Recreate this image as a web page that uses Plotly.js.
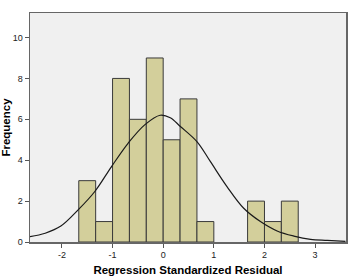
<!DOCTYPE html>
<html>
<head>
<meta charset="utf-8">
<script src="https://cdn.plot.ly/plotly-3.0.1.min.js"></script>
<style>html,body{margin:0;padding:0;background:#fff;}#chart{width:349px;height:276px;}</style>
</head>
<body>
<div id="chart"></div>
<script>
// Histogram bins (centers, width 1/3) and frequencies
var binCenters = [-1.5, -1.1667, -0.8333, -0.5, -0.1667, 0.1667, 0.5, 0.8333, 1.8333, 2.1667, 2.5];
var frequencies = [3, 1, 8, 6, 9, 5, 7, 1, 2, 1, 2];
var binWidth = 1/3;

// Normal curve points
var curveX = [-2.63, -2.33, -2.02, -1.68, -1.35, -1.02, -0.69, -0.36, -0.06, 0.14, 0.34, 0.67, 0.93, 1.26, 1.59, 1.92, 2.25, 2.58, 2.91, 3.24, 3.6];
var curveY = [0.26, 0.43, 0.78, 1.57, 2.47, 3.69, 4.84, 5.74, 6.2, 6.08, 5.65, 4.9, 3.94, 2.71, 1.65, 1.0, 0.54, 0.29, 0.13, 0.08, 0.03];

var xTicks = [-2, -1, 0, 1, 2, 3];
var yTicks = [0, 2, 4, 6, 8, 10];

var traces = [
  {
    type: 'bar',
    x: binCenters,
    y: frequencies,
    width: binWidth,
    marker: {color: '#d3cf9b', line: {color: '#3a3a3a', width: 1}},
    hoverinfo: 'none'
  },
  {
    type: 'scatter',
    mode: 'lines',
    x: curveX,
    y: curveY,
    line: {color: '#1a1a1a', width: 1.2, shape: 'spline', smoothing: 1},
    hoverinfo: 'none'
  }
];

var layout = {
  width: 349,
  height: 276,
  margin: {l: 30, r: 3, t: 13, b: 34},
  paper_bgcolor: '#ffffff',
  plot_bgcolor: '#f0f0f0',
  showlegend: false,
  bargap: 0,
  font: {family: 'Liberation Sans, Arial, sans-serif', color: '#000'},
  xaxis: {
    range: [-2.63, 3.61],
    tickvals: xTicks,
    ticktext: xTicks.map(String),
    ticks: 'outside',
    ticklen: 4,
    tickcolor: '#555',
    tickfont: {size: 9, color: '#222'},
    showgrid: false,
    zeroline: false,
    showline: true,
    linecolor: '#666',
    linewidth: 1.5,
    mirror: true,
    title: {text: 'Regression Standardized Residual', font: {size: 11.5, family: 'Liberation Sans, Arial, sans-serif', weight: 'bold'}, standoff: 6}
  },
  yaxis: {
    range: [0, 11.2],
    tickvals: yTicks,
    ticktext: yTicks.map(String),
    ticks: 'outside',
    ticklen: 4,
    tickcolor: '#555',
    tickfont: {size: 9, color: '#222'},
    showgrid: false,
    zeroline: false,
    showline: true,
    linecolor: '#666',
    linewidth: 1.5,
    mirror: true,
    title: {text: 'Frequency', font: {size: 11.5, family: 'Liberation Sans, Arial, sans-serif', weight: 'bold'}, standoff: 4}
  }
};

Plotly.newPlot('chart', traces, layout, {displayModeBar: false, staticPlot: true});
</script>
</body>
</html>
